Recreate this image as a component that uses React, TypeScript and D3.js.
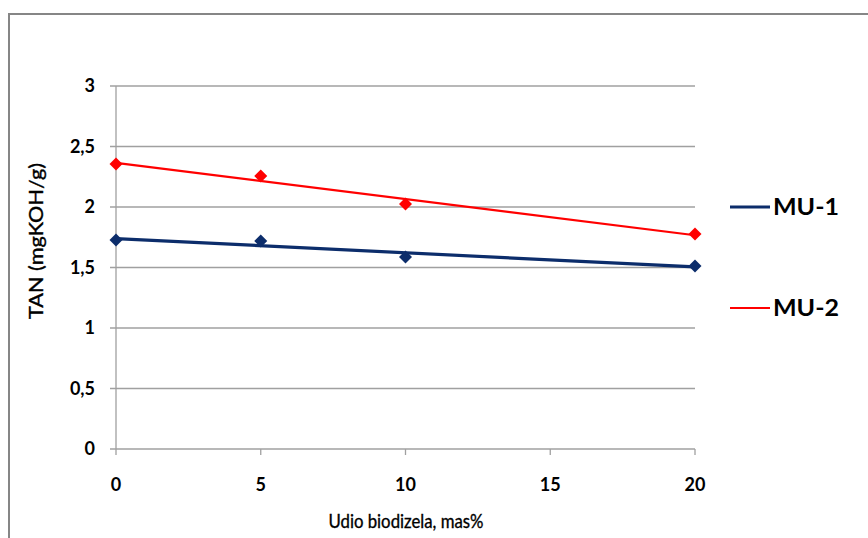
import React from "react";
import * as d3 from "d3";

// Biodiesel share (mas%) and measured total acid number per blend
const xValues = [0, 5, 10, 20];
const mu1Values = [1.727, 1.719, 1.587, 1.512];
const mu2Values = [2.355, 2.256, 2.025, 1.777];
const seriesNames = ["MU-1", "MU-2"];
const yTicks = [0, 0.5, 1, 1.5, 2, 2.5, 3];
const xTicks = [0, 5, 10, 15, 20];

const W = 868;
const H = 538;
const FONT = "Lato, 'Open Sans', sans-serif";

function linearFit(xs: number[], ys: number[]) {
  const mx = d3.mean(xs)!;
  const my = d3.mean(ys)!;
  let sxy = 0;
  let sxx = 0;
  xs.forEach((x, i) => {
    sxy += (x - mx) * (ys[i] - my);
    sxx += (x - mx) * (x - mx);
  });
  const slope = sxy / sxx;
  return (x: number) => my + slope * (x - mx);
}

// square diamond marker, half-diagonal r
const diamondPath = (r: number) => `M0,${-r}L${r},0L0,${r}L${-r},0Z`;

export default function App() {
  const x = d3.scaleLinear().domain([0, 20]).range([116, 695]);
  const y = d3.scaleLinear().domain([0, 3]).range([449, 86]);
  const fmt = (v: number) => String(v).replace(".", ",");

  const series = [
    { name: seriesNames[0], values: mu1Values, color: "#0C2D6B", width: 3.2, legendY: 207 },
    { name: seriesNames[1], values: mu2Values, color: "#FF0000", width: 2.2, legendY: 308 },
  ];

  return (
    <svg
      width={W}
      height={H}
      style={{ position: "absolute", left: 0, top: 0, background: "#fff" }}
    >
      {/* chart frame */}
      <rect x={9} y={14} width={W + 10} height={H + 10} fill="#fff" stroke="#868686" strokeWidth={2} />

      {/* horizontal gridlines */}
      {yTicks.map((t) => (
        <line key={"g" + t} x1={110} x2={695} y1={y(t)} y2={y(t)} stroke="#A0A0A0" strokeWidth={1.3} />
      ))}
      {/* vertical axis */}
      <line x1={116} x2={116} y1={86} y2={449} stroke="#A0A0A0" strokeWidth={1.3} />
      {/* x ticks */}
      {xTicks.map((t) => (
        <line key={"xt" + t} x1={x(t)} x2={x(t)} y1={449} y2={455} stroke="#A0A0A0" strokeWidth={1.3} />
      ))}

      {/* y tick labels */}
      {yTicks.map((t) => (
        <text
          key={"yl" + t}
          x={95}
          y={y(t)}
          dy="0.36em"
          textAnchor="end"
          fontFamily={FONT}
          fontWeight={700}
          fontSize={18}
          fill="#000"
        >
          {fmt(t)}
        </text>
      ))}
      {/* x tick labels */}
      {xTicks.map((t) => (
        <text
          key={"xl" + t}
          x={x(t)}
          y={491}
          textAnchor="middle"
          fontFamily={FONT}
          fontWeight={700}
          fontSize={18}
          fill="#000"
        >
          {t}
        </text>
      ))}

      {/* axis titles */}
      <text
        transform="translate(43,241) rotate(-90)"
        textAnchor="middle"
        fontFamily={FONT}
        fontWeight={400}
        fontSize={19}
        textLength={156}
        lengthAdjust="spacingAndGlyphs"
        fill="#000"
        stroke="#000"
        strokeWidth={0.35}
      >
        TAN (mgKOH/g)
      </text>
      <text
        x={406}
        y={528}
        textAnchor="middle"
        fontFamily={FONT}
        fontWeight={400}
        fontSize={19}
        textLength={155}
        lengthAdjust="spacingAndGlyphs"
        fill="#000"
        stroke="#000"
        strokeWidth={0.35}
      >
        Udio biodizela, mas%
      </text>

      {/* trend lines and markers */}
      {series.map((s) => {
        const fit = linearFit(xValues, s.values);
        const pts: [number, number][] = [0, 20].map((e) => [x(e), y(fit(e))]);
        return (
          <g key={s.name}>
            <path d={d3.line()(pts) ?? ""} fill="none" stroke={s.color} strokeWidth={s.width} />
            {xValues.map((xv, i) => (
              <path
                key={i}
                d={diamondPath(6.5)}
                transform={`translate(${x(xv)},${y(s.values[i])})`}
                fill={s.color}
              />
            ))}
          </g>
        );
      })}

      {/* legend */}
      {series.map((s) => (
        <g key={"lg" + s.name}>
          <line x1={730} x2={770} y1={s.legendY} y2={s.legendY} stroke={s.color} strokeWidth={s.width} />
          <text
            x={773}
            y={s.legendY}
            dy="0.36em"
            fontFamily={FONT}
            fontWeight={700}
            fontSize={23}
            textLength={66}
            lengthAdjust="spacingAndGlyphs"
            fill="#000"
          >
            {s.name}
          </text>
        </g>
      ))}
    </svg>
  );
}
